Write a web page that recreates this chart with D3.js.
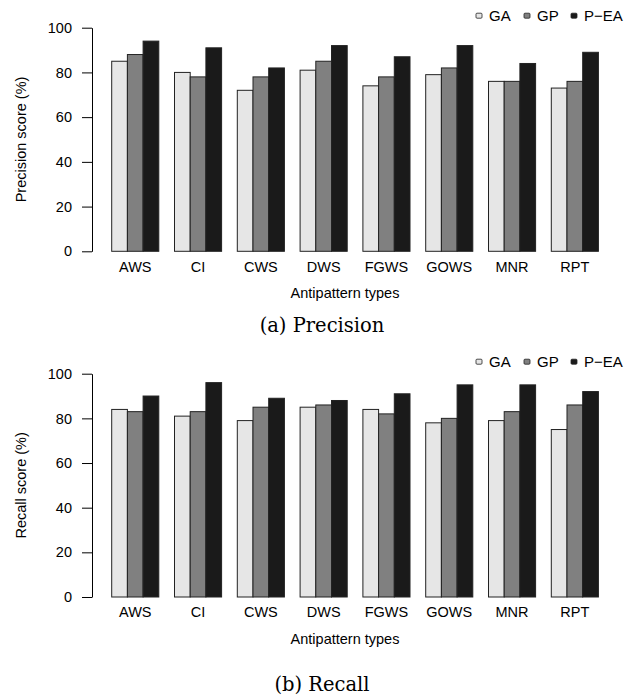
<!DOCTYPE html>
<html lang="en">
<head>
<meta charset="UTF-8">
<title>Precision and Recall per antipattern type</title>
<script src="https://d3js.org/d3.v7.min.js"></script>
<style>
    body { margin: 0; background: #fff; }
    text { font-family: "Liberation Sans", Arial, Helvetica, sans-serif; fill: #000; }
    .caption { font-family: "DejaVu Serif", "Liberation Serif", serif; font-size: 19.5px; }
    .axis path, .axis line { stroke: #000; }
</style>
</head>
<body>
<svg width="640" height="698" id="canvas"></svg>
<script>

    // data
    const categories = ["AWS", "CI", "CWS", "DWS", "FGWS", "GOWS", "MNR", "RPT"];
    const series = ["GA", "GP", "P\u2212EA"];
    const precisionGA  = [85, 80, 72, 81, 74, 79, 76, 73];
    const precisionGP  = [88, 78, 78, 85, 78, 82, 76, 76];
    const precisionPEA = [94, 91, 82, 92, 87, 92, 84, 89];
    const recallGA  = [84, 81, 79, 85, 84, 78, 79, 75];
    const recallGP  = [83, 83, 85, 86, 82, 80, 83, 86];
    const recallPEA = [90, 96, 89, 88, 91, 95, 95, 92];
    const yTicks = [0, 20, 40, 60, 80, 100];
    const fills = ["#e6e6e6", "#808080", "#1a1a1a"];

    let svg = d3.select("svg");

    function barChart(values, top, bottom, yLabel, caption, captionY) {
        const g = svg.append("g");

        // grouped bars: 3 bars + 1 bar gap per group
        const x0 = d3.scaleBand()
            .domain(categories)
            .range([96, 614.1])
            .paddingInner(0.25)
            .paddingOuter(0.25);
        const x1 = d3.scaleBand()
            .domain(series)
            .range([0, x0.bandwidth()]);
        const y = d3.scaleLinear()
            .domain([0, 100])
            .range([bottom, top]);
        const color = d3.scaleOrdinal().domain(series).range(fills);

        const rows = categories.map((c, i) => ({
            cat: c,
            vals: series.map((s, j) => ({ s: s, v: values[j][i] }))
        }));

        g.selectAll(".grp")
            .data(rows)
            .enter()
            .append("g")
            .attr("class", "grp")
            .attr("transform", d => `translate(${x0(d.cat)},0)`)
            .selectAll("rect")
            .data(d => d.vals)
            .enter()
            .append("rect")
            .attr("x", d => x1(d.s))
            .attr("width", x1.bandwidth())
            .attr("y", d => y(d.v))
            .attr("height", d => y(0) - y(d.v))
            .attr("fill", d => color(d.s))
            .attr("stroke", "#222")
            .attr("stroke-width", 1);

        // y axis
        const yAxis = g.append("g").attr("class", "axis")
            .attr("transform", "translate(92,0)")
            .call(d3.axisLeft(y).tickValues(yTicks).tickSize(10).tickSizeOuter(0).tickPadding(10));
        yAxis.selectAll("text").style("font-size", "14.5px");
        yAxis.attr("font-family", null);

        // x labels only, no axis line
        const xAxis = g.append("g").attr("class", "axis")
            .attr("transform", `translate(0,${bottom})`)
            .call(d3.axisBottom(x0).tickSize(0).tickPadding(10));
        xAxis.select(".domain").remove();
        xAxis.selectAll("text").style("font-size", "14.5px");
        xAxis.attr("font-family", null);

        g.append("text")
            .attr("x", 345)
            .attr("y", bottom + 47)
            .attr("text-anchor", "middle")
            .style("font-size", "14.5px")
            .text("Antipattern types");

        g.append("text")
            .attr("transform", `translate(26,${(top + bottom) / 2}) rotate(-90)`)
            .attr("text-anchor", "middle")
            .style("font-size", "14.5px")
            .text(yLabel);

        // legend at top right
        const legX = [476, 524, 571];
        const leg = g.append("g").attr("transform", `translate(0,${top - 12})`);
        series.forEach((s, i) => {
            leg.append("rect")
                .attr("x", legX[i])
                .attr("y", -2.5)
                .attr("width", 6)
                .attr("height", 5)
                .attr("rx", 1)
                .attr("fill", color(s))
                .attr("stroke", "#222")
                .attr("stroke-width", 0.8);
            leg.append("text")
                .attr("x", legX[i] + 13)
                .attr("y", 0)
                .attr("dy", "0.35em")
                .style("font-size", "15px")
                .text(s);
        });

        svg.append("text")
            .attr("class", "caption")
            .attr("x", 322)
            .attr("y", captionY)
            .attr("text-anchor", "middle")
            .text(caption);
    }

    barChart([precisionGA, precisionGP, precisionPEA], 27.7, 251.3, "Precision score (%)", "(a) Precision", 332);
    barChart([recallGA, recallGP, recallPEA], 373.7, 597, "Recall score (%)", "(b) Recall", 691);

</script>
</body>
</html>
